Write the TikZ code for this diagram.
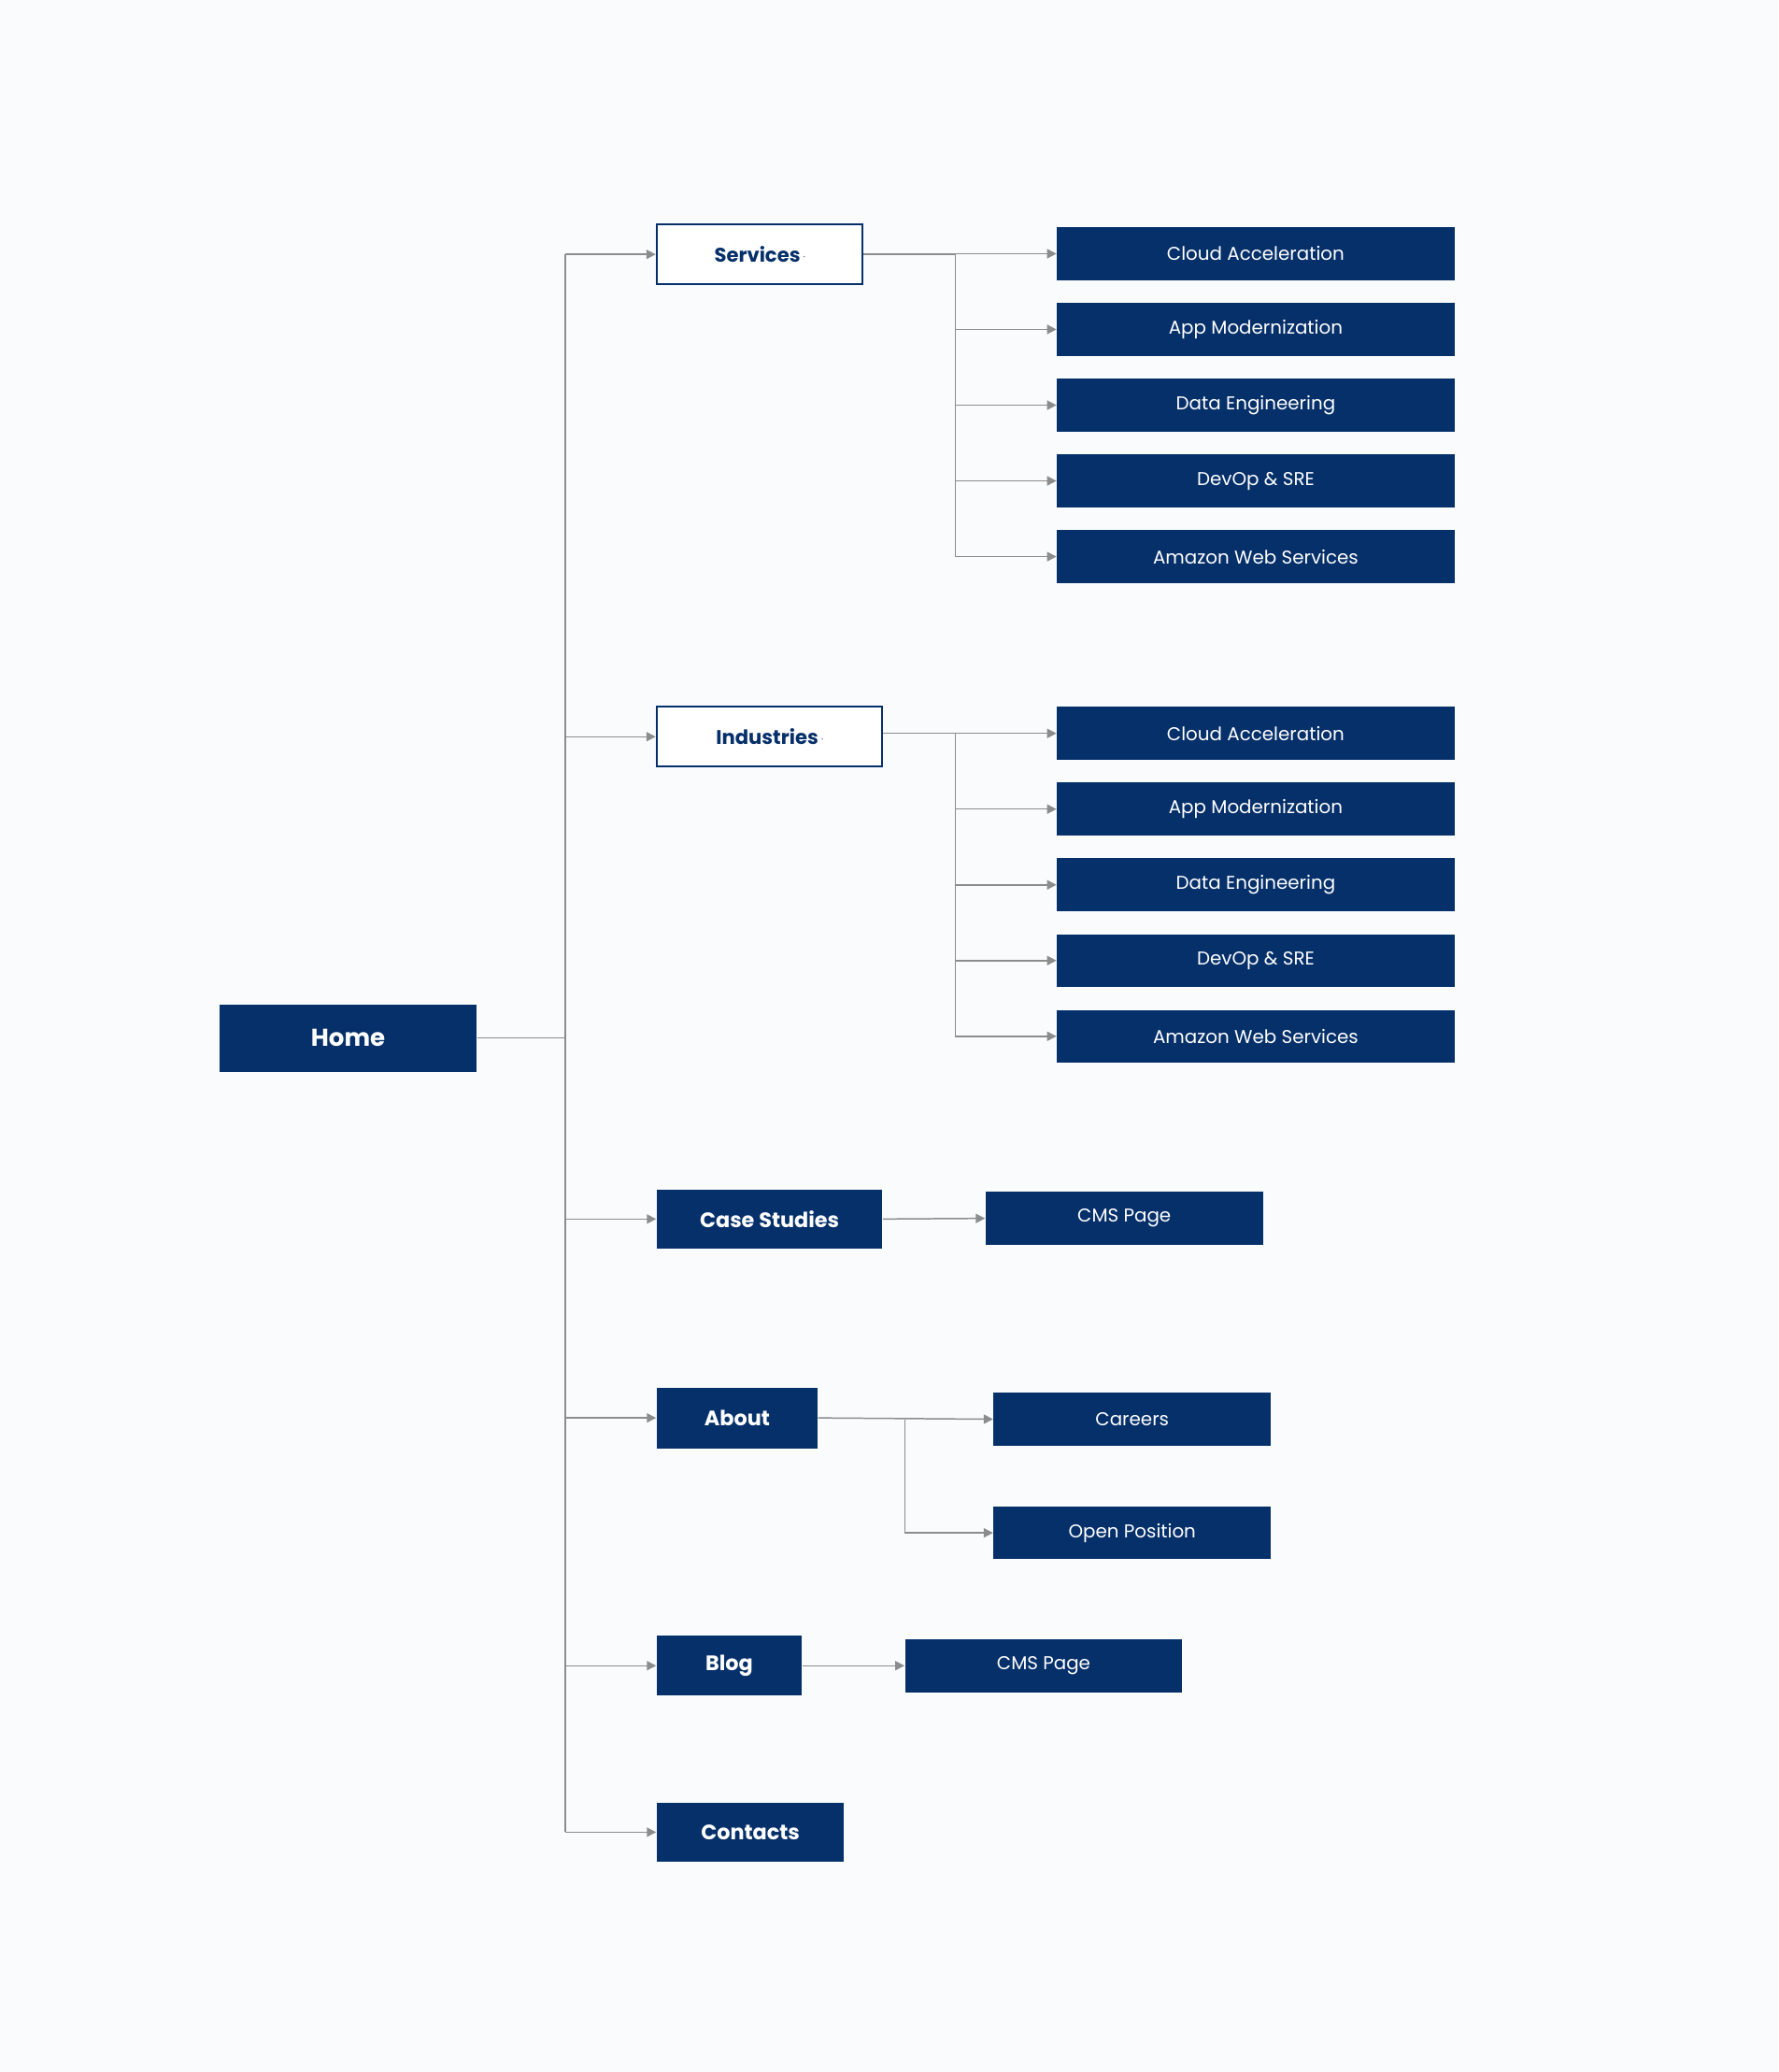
\documentclass[tikz,border=0pt]{standalone}
\usepackage{fontspec}
\setmainfont{Poppins}
\usetikzlibrary{arrows.meta}
\usetikzlibrary{positioning}
\definecolor{navy}{HTML}{06306A}
\definecolor{bgcol}{HTML}{F9FBFD}
\definecolor{linecol}{HTML}{8C8C8C}
\newcommand{\chev}{\,\tikz[baseline=-0.5ex]\draw[navy,line width=0.5pt] (0,0.04)--(0.06,-0.02)--(0.12,0.04);}
\tikzset{
  page/.style={fill=navy,text=white,inner sep=0pt,font=\fontsize{9}{10}\selectfont\bfseries},
  menu/.style={draw=navy,line width=0.8pt,fill=white,text=navy,inner sep=0pt,font=\fontsize{8.5}{10}\selectfont\bfseries},
  sub/.style={fill=navy,text=white,inner sep=0pt,minimum height=0.8cm,font=\fontsize{8}{10}\selectfont},
  link/.style={draw=linecol,line width=0.6pt,-{Triangle[length=4pt,width=4pt]}},
  trunk/.style={draw=linecol,line width=0.6pt}
}
\begin{document}
\begin{tikzpicture}[x=0.02cm,y=-0.02cm]
\fill[bgcol] (0,0) rectangle (1346,1568);
\useasboundingbox (0,0) rectangle (1346,1568);
% main pages
\node[page,minimum width=3.9cm,minimum height=1.02cm,font=\fontsize{10.5}{12}\selectfont\bfseries] (home) at (263.5,785.5) {Home};
\node[menu,minimum width=3.12cm,minimum height=0.9cm] (services) at (575,192.5) {Services\chev};
\node[menu,minimum width=3.42cm,minimum height=0.9cm] (industries) at (582.5,557.5) {Industries\chev};
\node[page,minimum width=3.42cm,minimum height=0.9cm] (cases) at (582.5,922.5) {Case Studies};
\node[page,minimum width=2.44cm,minimum height=0.92cm] (about) at (558,1073) {About};
\node[page,minimum width=2.2cm,minimum height=0.9cm] (blog) at (552,1260.5) {Blog};
\node[page,minimum width=2.84cm,minimum height=0.9cm] (contacts) at (568,1386.5) {Contacts};
\coordinate (hub) at (428,785.5);
\draw[trunk] (home.east) -- (hub);
\draw[trunk] (428,192.5) -- (428,1386.5);
\foreach \n in {services,industries,cases,about,blog,contacts}
  \draw[link] (hub |- \n.west) -- (\n.west);
% sub pages
\foreach \m/\y in {s/192,i/555}{
  \foreach \t [count=\k from 0] in {Cloud Acceleration,App Modernization,Data Engineering,DevOp \& SRE,Amazon Web Services}
    \node[sub,minimum width=6.02cm] (\m\k) at (950.5,\y+57.3*\k) {\t};
}
\draw[trunk] (services.east) -- (723,192.5) -- (723,421);
\draw[trunk] (industries.east |- 0,555) -- (723,555) -- (723,784);
\foreach \k in {0,...,4}{
  \draw[link] (723,0 |- s\k.west) -- (s\k.west);
  \draw[link] (723,0 |- i\k.west) -- (i\k.west);
}
\node[sub,minimum width=4.2cm] (casecms) at (851,922) {CMS Page};
\draw[link] (cases.east) -- (casecms.west);
\node[sub,minimum width=4.2cm] (careers) at (857,1074) {Careers};
\node[sub,minimum width=4.2cm] (openpos) at (857,1160) {Open Position};
\draw[link] (about.east) -- (careers.west);
\draw[link] (685,1074) -- (685,1160) -- (openpos.west);
\node[sub,minimum width=4.2cm] (blogcms) at (790,1260.5) {CMS Page};
\draw[link] (blog.east) -- (blogcms.west);
\end{tikzpicture}
\end{document}
